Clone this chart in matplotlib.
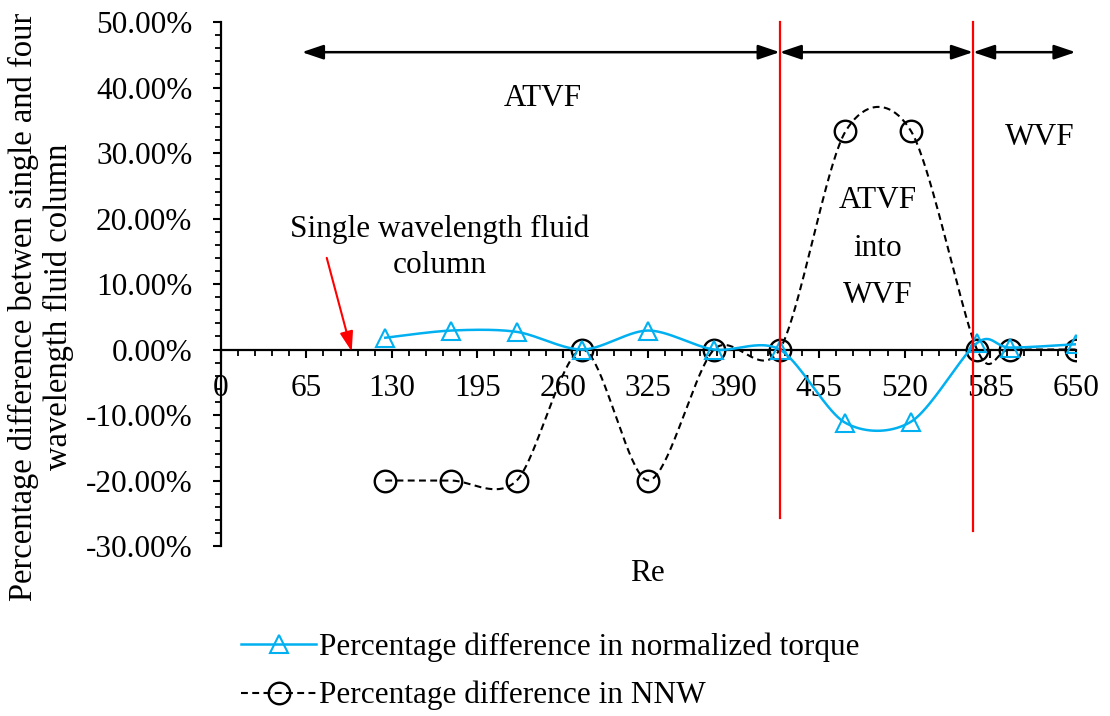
import numpy as np
import matplotlib
matplotlib.use("Agg")
import matplotlib.pyplot as plt
from matplotlib.lines import Line2D
from matplotlib.ticker import MultipleLocator, FuncFormatter


# Donnees.

re_values = [125, 175, 225, 275, 325, 375, 425, 475, 525, 575, 600, 650]
torque_diff = [1.8, 2.9, 2.7, 0.0, 2.9, 0.0, 0.0, -11.2, -11.0, 1.0, 0.3, 0.8]
nnw_diff = [-20.0, -20.0, -20.0, 0.0, -20.0, 0.0, 0.0, 33.3, 33.3, 0.0, 0.0, 0.0]

transitions_re = [425, 572]
transitions_bas = [-25.7, -27.7]
zones_re = [61.6, 425, 572, 650]

x_ticks = [0, 65, 130, 195, 260, 325, 390, 455, 520, 585, 650]

label_torque = "Percentage difference in normalized torque"
label_nnw = "Percentage difference in NNW"
label_y = "Percentage difference betwen single and four\nwavelength fluid column"


def lissage(xs, ys, n=40, k=0.15):
    # courbe lissee facon Excel (Bezier / Catmull-Rom)
    p = np.column_stack([xs, ys]).astype(float)
    p = np.vstack([p[0], p, p[-1]])
    t = np.linspace(0, 1, n, endpoint=False)[:, None]
    morceaux = []
    for i in range(1, len(p) - 2):
        p0, p1, p2, p3 = p[i - 1], p[i], p[i + 1], p[i + 2]
        c1 = p1 + (p2 - p0) * k
        c2 = p2 - (p3 - p1) * k
        b = ((1 - t) ** 3 * p1 + 3 * (1 - t) ** 2 * t * c1
             + 3 * (1 - t) * t ** 2 * c2 + t ** 3 * p2)
        morceaux.append(b)
    morceaux.append(p[-2][None, :])
    courbe = np.vstack(morceaux)
    return courbe[:, 0], courbe[:, 1], n


plt.rcParams['font.family'] = ['Liberation Serif', 'DejaVu Serif']
plt.rcParams['font.size'] = 22.5

fig = plt.figure(figsize=(11.1, 7.16), dpi=100)
ax = fig.add_axes([0.199, 0.2374, 0.770, 0.7318])

bleu = "#00B0F0"

cx, cy, n = lissage(re_values, torque_diff)
ax.plot(cx, cy, color=bleu, lw=1.8, marker='^', markevery=n, markersize=13,
        markerfacecolor='none', markeredgecolor=bleu, markeredgewidth=1.5, zorder=4)

cx, cy, n = lissage(re_values, nnw_diff)
ax.plot(cx, cy, color='black', lw=1.5, ls=(0, (3.3, 2.1)), marker='o', markevery=n,
        markersize=15.5, markerfacecolor='none', markeredgecolor='black',
        markeredgewidth=1.7, zorder=3)

for xr, yb in zip(transitions_re, transitions_bas):
    ax.plot([xr, xr], [yb, 50], color='red', lw=1.6, zorder=5, clip_on=False)

for a, b in zip(zones_re[:-1], zones_re[1:]):
    ax.annotate("", xy=(b, 45.4), xytext=(a, 45.4),
                arrowprops=dict(arrowstyle='<|-|>,head_length=0.65,head_width=0.22',
                                color='black', lw=1.8, shrinkA=0, shrinkB=0,
                                mutation_scale=20))

ax.text(244.8, 38.3, "ATVF", ha='center', va='center')
ax.text(622.6, 32.4, "WVF", ha='center', va='center')
ax.text(499.5, 15.5, "ATVF\ninto\nWVF", ha='center', va='center', linespacing=1.85)
ax.text(166.5, 15.6, "Single wavelength fluid\ncolumn", ha='center', va='center',
        linespacing=1.3)
ax.annotate("", xy=(99.5, -0.3), xytext=(80.5, 14.0),
            arrowprops=dict(arrowstyle='-|>,head_length=0.6,head_width=0.2',
                            color='red', lw=1.5, shrinkA=0, shrinkB=0,
                            mutation_scale=20))

# Axes.
ax.set_xlim(0, 650)
ax.set_ylim(-30, 50)
ax.spines['top'].set_visible(False)
ax.spines['right'].set_visible(False)
ax.spines['bottom'].set_position(('data', 0))
ax.spines['bottom'].set_linewidth(1.6)
ax.spines['left'].set_linewidth(1.6)

ax.set_xticks(x_ticks)
ax.xaxis.set_minor_locator(MultipleLocator(13))
ax.yaxis.set_major_locator(MultipleLocator(10))
ax.yaxis.set_minor_locator(MultipleLocator(2))
ax.yaxis.set_major_formatter(FuncFormatter(lambda v, pos: f"{v:.2f}%"))

ax.tick_params(which='major', direction='out', length=5.5, width=1.5)
ax.tick_params(which='minor', direction='out', length=4, width=1.3)
ax.tick_params(axis='x', which='major', pad=12)
ax.tick_params(axis='y', which='major', pad=15)

ax.text(0.4994, -0.052, "Re", transform=ax.transAxes, ha='center', va='center')
fig.text(0.037, 0.572, label_y, rotation=90, ha='center', va='center',
         multialignment='center', linespacing=1.15, fontsize=23.5)

poignees = [
    Line2D([], [], color=bleu, lw=1.8, marker='^', markersize=13,
           markerfacecolor='none', markeredgecolor=bleu, markeredgewidth=1.5),
    Line2D([], [], color='black', lw=1.5, ls=(0, (3.3, 2.1)), marker='o',
           markersize=15.5, markerfacecolor='none', markeredgecolor='black',
           markeredgewidth=1.7),
]
fig.legend(poignees, [label_torque, label_nnw], loc='center left',
           bbox_to_anchor=(0.192, 0.062), frameon=False, handlelength=2.4,
           handletextpad=0.1, labelspacing=0.6, fontsize=22.5)

fig.savefig("out.png", dpi=100)
